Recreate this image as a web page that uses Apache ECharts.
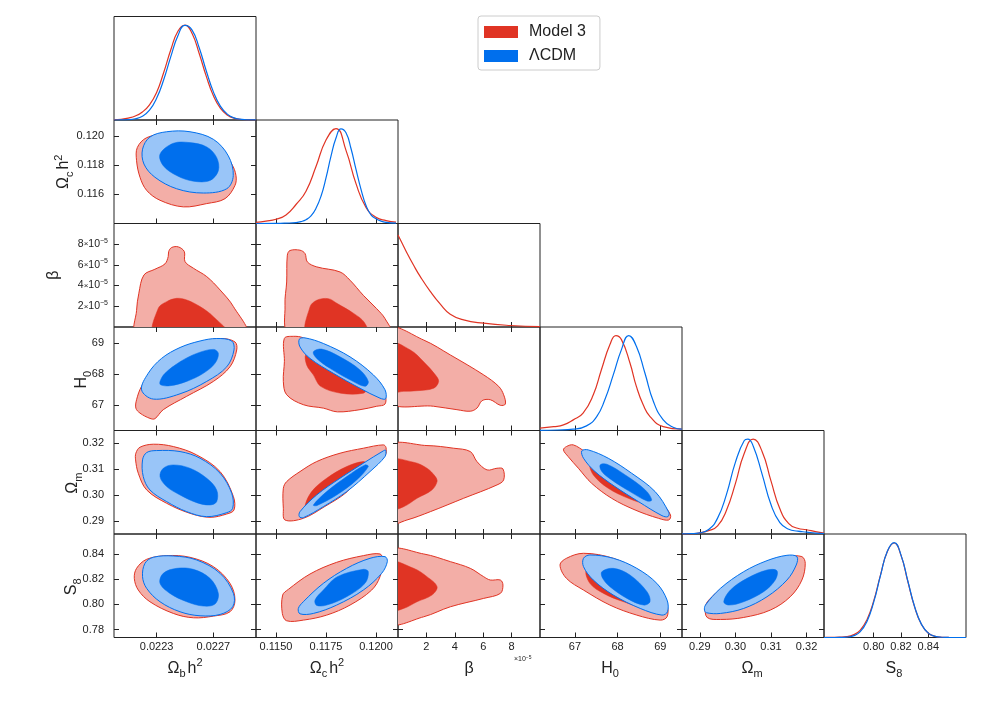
<!DOCTYPE html>
<html><head><meta charset="utf-8">
<script src="https://cdn.jsdelivr.net/npm/echarts@6/dist/echarts.min.js"></script>
<style>html,body{margin:0;padding:0;background:#fff}#c{width:984px;height:703px}</style>
</head><body><div id="c"></div><script>
// ---------------- axis data ----------------
const PARAM_X_RANGE = [[0.0220,0.0230],[0.1140,0.1211],[0,10],[66.18,69.51],[0.2850,0.3249],[0.7636,0.8676]];
const PARAM_Y_RANGE = [null,[0.1140,0.1211],[0,10],[66.18,69.51],[0.2850,0.3249],[0.7736,0.8562]];
const X_TICKS = [[0.0223,0.0227],[0.1150,0.1175,0.1200],[2,4,6,8],[67,68,69],[0.29,0.30,0.31,0.32],[0.80,0.82,0.84]];
const Y_TICKS = [null,[0.116,0.118,0.120],[2,4,6,8],[67,68,69],[0.29,0.30,0.31,0.32],[0.78,0.80,0.82,0.84]];
const AXIS_NAMES = ['{m|Ω}{sub|b}{m|h}{sup|2}','{m|Ω}{sub|c}{m|h}{sup|2}','{m|β}','{m|H}{sub|0}','{m|Ω}{sub|m}','{m|S}{sub|8}'];
const LEGEND_NAMES = ['Model 3','ΛCDM'];
// beta values are in units of 1e-5

// ---------------- 1D marginals ----------------
const D0_X = [0.0220,0.02205,0.0221,0.02215,0.0222,0.02225,0.0223,0.02235,0.0224,0.02245,0.0225,0.02255,0.0226,0.02265,0.0227,0.02275,0.0228,0.02285,0.0229,0.02295,0.0230];
const D0_RED = [0.003,0.008,0.02,0.042,0.085,0.16,0.29,0.50,0.74,0.935,1.0,0.91,0.70,0.46,0.256,0.122,0.05,0.017,0.005,0.0013,0.0003];
const D0_BLUE = [0.0002,0.0008,0.0035,0.013,0.04,0.103,0.228,0.424,0.667,0.887,0.997,0.947,0.761,0.516,0.296,0.144,0.059,0.02,0.006,0.0015,0.0003];

const D1_RED_X = [0.1140,0.1145,0.1150,0.1155,0.1160,0.1165,0.1170,0.1175,0.1180,0.1185,0.1190,0.1195,0.1200,0.1205,0.1210];
const D1_RED = [0.012,0.025,0.045,0.09,0.20,0.34,0.60,0.88,1.0,0.77,0.42,0.17,0.065,0.03,0.015];
const D1_BLUE_X = [0.1140,0.1150,0.1155,0.1160,0.11625,0.1165,0.11675,0.1170,0.11725,0.1175,0.11775,0.1180,0.11825,0.1185,0.11875,0.1190,0.11925,0.1195,0.11975,0.1200,0.12025,0.1205,0.1210];
const D1_BLUE = [0,0.001,0.004,0.01,0.02,0.04,0.08,0.16,0.287,0.48,0.71,0.90,0.997,0.955,0.79,0.57,0.36,0.19,0.091,0.05,0.025,0.012,0.003];

const D2_RED_X = [0,0.3,0.63,1.1,1.57,2.27,2.98,3.68,4.62,6.03,7.91,10];
const D2_RED = [0.97,0.88,0.78,0.65,0.53,0.375,0.24,0.135,0.075,0.04,0.016,0.005];

const D3_RED_X = [66.18,66.5,66.73,66.96,67.19,67.43,67.62,67.82,67.96,68.09,68.29,68.44,68.60,68.76,69.07,69.51];
const D3_RED = [0.024,0.04,0.059,0.112,0.183,0.376,0.64,0.905,1.0,0.957,0.711,0.464,0.27,0.147,0.041,0.014];
const D3_BLUE_X = [66.18,66.6,66.96,67.27,67.51,67.70,67.90,68.09,68.26,68.44,68.64,68.84,69.07,69.30,69.51];
const D3_BLUE = [0.002,0.005,0.014,0.049,0.147,0.323,0.588,0.852,1.0,0.887,0.606,0.305,0.112,0.035,0.014];

const D4_RED_X = [0.285,0.2875,0.29,0.2925,0.295,0.2975,0.30,0.3025,0.305,0.3075,0.31,0.3125,0.315,0.3175,0.32,0.3225,0.3249];
const D4_RED = [0.001,0.002,0.012,0.035,0.085,0.25,0.53,0.85,1.0,0.87,0.56,0.265,0.11,0.06,0.045,0.025,0.01];
const D4_BLUE_X = [0.285,0.2875,0.29,0.2925,0.295,0.2975,0.30,0.3025,0.3035,0.305,0.3075,0.31,0.3125,0.315,0.3175,0.32,0.3225,0.3249];
const D4_BLUE = [0.002,0.004,0.012,0.047,0.167,0.418,0.754,0.984,1.0,0.927,0.631,0.31,0.12,0.05,0.03,0.02,0.01,0.004];

const D5_X = [0.7636,0.765,0.770,0.775,0.780,0.785,0.790,0.795,0.800,0.805,0.810,0.815,0.820,0.825,0.830,0.835,0.840,0.845,0.850,0.855,0.860,0.865,0.8676];
const D5_RED = [0,0.0005,0.001,0.003,0.009,0.028,0.075,0.185,0.385,0.66,0.905,0.995,0.865,0.59,0.32,0.136,0.045,0.012,0.0025,0.0004,0.0001,0,0];
const D5_BLUE = [0,0,0.0001,0.0006,0.0037,0.0167,0.059,0.167,0.372,0.654,0.908,0.999,0.868,0.595,0.324,0.138,0.046,0.0125,0.0026,0.0004,0.0001,0,0];

// ---------------- 2D contours (x,y data pairs) ----------------
// (Ωb h², Ωc h²)
const A_red_out = [[0.022164,0.119209],[0.022159,0.118305],[0.022183,0.117175],[0.02223,0.116271],[0.022324,0.115593],[0.022488,0.115141],[0.022653,0.115367],[0.022782,0.115706],[0.022852,0.11661],[0.022859,0.117288],[0.022829,0.118079],[0.022723,0.119435],[0.022559,0.120113],[0.022371,0.120158],[0.02223,0.119887]];
const A_blue_out = [[0.022201,0.119096],[0.022253,0.119932],[0.022371,0.120294],[0.022535,0.120294],[0.0227,0.119774],[0.022805,0.118644],[0.02284,0.117288],[0.022794,0.116384],[0.022629,0.11609],[0.022441,0.116384],[0.022288,0.117175],[0.022211,0.118079]];
const A_blue_in = [[0.022324,0.118757],[0.022418,0.119503],[0.022535,0.119548],[0.022653,0.119254],[0.022723,0.118531],[0.022735,0.117627],[0.022676,0.116949],[0.022559,0.116904],[0.022441,0.117288],[0.022347,0.117966]];
// (Ωb h², β)
const B_red_out = [[0.02216,-0.6],[0.022159,1.6],[0.022175,3.26],[0.022211,5.03],[0.022288,5.58],[0.022359,6.10],[0.022382,6.81],[0.022385,7.29],[0.022406,7.68],[0.022453,7.74],[0.022495,7.29],[0.0225,6.32],[0.022559,5.68],[0.022653,4.87],[0.022747,3.58],[0.022841,1.97],[0.022925,-0.6]];
const B_red_in = [[0.022285,-0.6],[0.022312,1.81],[0.022371,2.45],[0.022441,2.77],[0.022512,2.61],[0.022606,1.97],[0.0227,1.0],[0.022795,-0.6]];
// (Ωb h², H0)
const C_red_out = [[0.022154,66.90],[0.022159,67.17],[0.022194,67.60],[0.022277,68.13],[0.022418,68.66],[0.022582,68.98],[0.022747,69.14],[0.022852,69.03],[0.022864,68.77],[0.022817,68.23],[0.0227,67.76],[0.022512,67.28],[0.022347,66.85],[0.022288,66.56],[0.022253,66.57],[0.022183,66.74]];
const C_blue_out = [[0.022194,67.49],[0.022241,68.02],[0.022335,68.50],[0.022465,68.85],[0.022606,69.06],[0.022723,69.14],[0.022829,69.06],[0.022845,68.77],[0.022794,68.23],[0.022653,67.76],[0.022465,67.36],[0.022277,67.19]];
const C_blue_in = [[0.022324,67.76],[0.022359,68.02],[0.022465,68.39],[0.022582,68.66],[0.0227,68.79],[0.022735,68.66],[0.022711,68.34],[0.022629,68.02],[0.022512,67.76],[0.022394,67.62],[0.022328,67.65]];
// (Ωb h², Ωm)
const D_red_out = [[0.022154,0.316139],[0.022183,0.318456],[0.022277,0.319614],[0.022418,0.318713],[0.022582,0.315496],[0.022747,0.309061],[0.022841,0.299408],[0.022845,0.29426],[0.022794,0.292716],[0.022676,0.291429],[0.022535,0.292973],[0.022371,0.296834],[0.02223,0.301982],[0.022171,0.308417],[0.022152,0.313565]];
const D_blue_out = [[0.022201,0.313565],[0.02223,0.316396],[0.0223,0.317169],[0.022465,0.316783],[0.022606,0.314209],[0.022747,0.308417],[0.022829,0.300695],[0.022836,0.294904],[0.022794,0.29323],[0.022653,0.291686],[0.022512,0.293616],[0.022371,0.297478],[0.022253,0.301982],[0.022206,0.30713]];
const D_blue_in = [[0.022324,0.30713],[0.022347,0.310348],[0.022418,0.311635],[0.022535,0.310348],[0.022653,0.306487],[0.022723,0.301982],[0.022723,0.297478],[0.022676,0.296191],[0.022582,0.297092],[0.022465,0.300052],[0.022371,0.303269]];
// (Ωb h², S8)
const E_red_out = [[0.022143,0.8208],[0.022159,0.8288],[0.02223,0.836],[0.022371,0.838933],[0.022535,0.8376],[0.0227,0.830133],[0.022817,0.8168],[0.022852,0.803467],[0.022817,0.794133],[0.0227,0.790667],[0.022559,0.789333],[0.022418,0.7928],[0.022253,0.802133],[0.022171,0.811467]];
const E_blue_out = [[0.022201,0.822133],[0.022218,0.8328],[0.022277,0.8376],[0.022418,0.838667],[0.022582,0.835467],[0.022747,0.8248],[0.022841,0.8088],[0.022836,0.798133],[0.022747,0.792],[0.022606,0.790933],[0.022465,0.794133],[0.022324,0.802133],[0.02223,0.8128]];
const E_blue_in = [[0.022324,0.8168],[0.022347,0.8248],[0.022441,0.8288],[0.022559,0.828],[0.022676,0.8208],[0.022735,0.8088],[0.022711,0.800267],[0.022629,0.798667],[0.022512,0.802133],[0.022394,0.8088]];
// (Ωc h², β)
const F_red_out = [[0.11568,-0.6],[0.11545,2.10],[0.115533,4.35],[0.115567,6.94],[0.1157,7.39],[0.1162,7.42],[0.11645,7.10],[0.116567,6.29],[0.117033,5.81],[0.1182,5.32],[0.1187,4.52],[0.119367,3.06],[0.120033,1.77],[0.12045,0.81],[0.12072,-0.6]];
const F_red_in = [[0.11656,-0.6],[0.1167,1.94],[0.117033,2.58],[0.117617,2.74],[0.118067,2.26],[0.1189,1.29],[0.1194,0.48],[0.11956,-0.6]];
// (Ωc h², H0)
const G_red_out = [[0.115417,69.14],[0.115867,69.21],[0.116367,69.16],[0.1177,68.71],[0.119033,68.18],[0.120033,67.70],[0.12045,67.33],[0.12045,67.03],[0.120033,66.96],[0.1192,66.85],[0.118067,66.78],[0.117367,66.90],[0.116367,67.01],[0.115533,67.33],[0.115367,67.76],[0.11542,68.4]];
const G_red_in = [[0.1165,68.63],[0.117033,68.66],[0.118033,68.39],[0.119033,67.97],[0.119533,67.54],[0.119367,67.38],[0.118233,67.38],[0.117233,67.60],[0.116867,67.97],[0.116533,68.29]];
const G_blue_out = [[0.116167,69.12],[0.11645,69.16],[0.117367,68.98],[0.1187,68.55],[0.119867,67.97],[0.12045,67.49],[0.120483,67.20],[0.1202,67.22],[0.1192,67.54],[0.117867,68.02],[0.1167,68.50],[0.1162,68.87]];
const G_blue_in = [[0.116867,68.71],[0.117283,68.80],[0.1182,68.55],[0.1192,68.13],[0.119617,67.76],[0.11945,67.60],[0.1187,67.81],[0.1177,68.18],[0.117033,68.50]];
// (Ωc h², Ωm)
const H_red_out = [[0.115367,0.302626],[0.115533,0.305199],[0.1162,0.309061],[0.117033,0.312922],[0.1182,0.316139],[0.119367,0.318069],[0.120367,0.319356],[0.1205,0.318327],[0.12045,0.315238],[0.119433,0.309061],[0.118567,0.301339],[0.1174,0.295419],[0.116367,0.291042],[0.11545,0.290399],[0.115367,0.294904]];
const H_red_in = [[0.11645,0.295547],[0.116783,0.301339],[0.117533,0.306487],[0.118533,0.310991],[0.119367,0.312922],[0.119533,0.311635],[0.1187,0.305199],[0.117533,0.298764],[0.1167,0.295161]];
const H_blue_out = [[0.116167,0.291686],[0.1162,0.293616],[0.117033,0.300052],[0.1182,0.306487],[0.119367,0.312278],[0.120367,0.31704],[0.120483,0.317297],[0.12045,0.314852],[0.1197,0.309061],[0.118533,0.301339],[0.117367,0.295547],[0.116367,0.2913]];
const H_blue_in = [[0.116867,0.296191],[0.117533,0.301339],[0.118533,0.30713],[0.11945,0.311635],[0.119617,0.310991],[0.119033,0.305843],[0.118033,0.300052],[0.117033,0.295933]];
// (β, H0)
const I_red_out = [[-0.6,69.45],[1.81,69.09],[3.69,68.61],[6.03,67.97],[7.09,67.60],[7.44,67.33],[7.56,67.03],[7.21,66.99],[6.50,67.17],[5.92,67.14],[5.56,66.90],[5.09,66.80],[4.15,66.85],[2.51,66.96],[-0.6,67.12]];
const I_red_in = [[-0.6,69.0],[0.87,68.77],[1.81,68.39],[2.63,67.97],[2.86,67.76],[2.51,67.54],[1.34,67.46],[0.40,67.44],[-0.6,67.44]];
// (β, Ωm)
const J_red_out = [[-0.6,0.31871],[2.04,0.319099],[3.92,0.318069],[5.09,0.316783],[5.56,0.312922],[6.27,0.309704],[6.97,0.310348],[7.39,0.310091],[7.44,0.305843],[6.97,0.303913],[4.62,0.298764],[2.28,0.293616],[0.63,0.290399],[-0.6,0.2892]];
const J_red_in = [[-0.6,0.31318],[1.10,0.312664],[2.04,0.310348],[2.63,0.30713],[2.75,0.305199],[2.39,0.301982],[1.34,0.298764],[0.40,0.295547],[-0.6,0.2945]];
// (H0, Ωm)
const K_red_out = [[66.73,0.317426],[66.80,0.318713],[66.96,0.319356],[67.24,0.316783],[67.63,0.313565],[68.10,0.309061],[68.65,0.302626],[69.04,0.296834],[69.24,0.292329],[69.20,0.290399],[68.96,0.291042],[68.41,0.29426],[67.86,0.298764],[67.39,0.304556],[67.08,0.310348],[66.84,0.314852]];
const K_red_in = [[67.35,0.312278],[67.55,0.312278],[68.02,0.308417],[68.49,0.303269],[68.76,0.298121],[68.65,0.296834],[68.25,0.298764],[67.78,0.302626],[67.43,0.307774]];
const K_blue_out = [[67.16,0.31704],[67.31,0.317426],[67.78,0.314209],[68.33,0.308417],[68.88,0.301339],[69.20,0.293359],[69.18,0.291686],[69.04,0.292072],[68.49,0.297478],[67.94,0.303269],[67.47,0.309061],[67.20,0.314209]];
const K_blue_in = [[67.59,0.311635],[67.75,0.311892],[68.18,0.307774],[68.65,0.301982],[68.80,0.298121],[68.69,0.297735],[68.29,0.301339],[67.86,0.305843],[67.63,0.309061]];
// (Ωc h², S8)
const L_red_out = [[0.115333,0.807467],[0.115617,0.812],[0.1167,0.824267],[0.118033,0.8336],[0.119367,0.838933],[0.1202,0.840267],[0.120333,0.835467],[0.1202,0.822133],[0.119783,0.811467],[0.1187,0.799467],[0.117533,0.791467],[0.116367,0.787467],[0.115533,0.786933],[0.115317,0.7928]];
const L_blue_out = [[0.116117,0.7968],[0.116367,0.802133],[0.117367,0.8168],[0.118533,0.8288],[0.1197,0.8368],[0.12045,0.838133],[0.120567,0.834133],[0.120283,0.8248],[0.119367,0.811467],[0.118033,0.799467],[0.116867,0.7928],[0.1162,0.7925]];
const L_blue_in = [[0.11695,0.803467],[0.117367,0.811467],[0.118067,0.822133],[0.119367,0.828],[0.119617,0.826133],[0.11945,0.8168],[0.118533,0.806133],[0.117533,0.799467],[0.117033,0.7992]];
// (β, S8)
const M_red_out = [[-0.6,0.8425],[1.81,0.840267],[3.69,0.834133],[5.09,0.8288],[6.03,0.822133],[6.50,0.819467],[7.21,0.819467],[7.39,0.815467],[7.21,0.8088],[6.03,0.8048],[3.69,0.798133],[1.81,0.790133],[-0.6,0.7855]];
const M_red_in = [[-0.6,0.8335],[1.10,0.8288],[2.04,0.822133],[2.75,0.814133],[2.39,0.807467],[1.34,0.802133],[0.40,0.7968],[-0.6,0.7952]];
// (H0, S8)
const N_red_out = [[66.65,0.831467],[66.80,0.8368],[67.20,0.8408],[67.90,0.8368],[68.45,0.827467],[68.92,0.814133],[69.16,0.799467],[69.16,0.790133],[69.00,0.787467],[68.45,0.791467],[67.82,0.799467],[67.20,0.811467],[66.80,0.8208]];
const N_red_in = [[67.27,0.827467],[67.67,0.828],[68.29,0.819467],[68.69,0.806133],[68.61,0.798133],[68.14,0.802133],[67.67,0.8088],[67.35,0.8168]];
const N_blue_out = [[67.20,0.8368],[67.35,0.839467],[67.90,0.8368],[68.45,0.8288],[68.92,0.8168],[69.16,0.803467],[69.17,0.794133],[69.04,0.791467],[68.53,0.7968],[67.90,0.807467],[67.43,0.819467],[67.20,0.830133]];
const N_blue_in = [[67.63,0.826133],[67.90,0.8288],[68.29,0.823467],[68.69,0.810133],[68.76,0.802133],[68.61,0.799467],[68.22,0.8048],[67.82,0.814133],[67.65,0.8208]];
// (Ωm, S8)
const O_red_out = [[0.29159,0.798133],[0.29252,0.803467],[0.29673,0.814133],[0.30234,0.8248],[0.30794,0.8328],[0.31449,0.838133],[0.31869,0.838133],[0.31963,0.8328],[0.31869,0.819467],[0.31542,0.806133],[0.30981,0.795467],[0.30234,0.7896],[0.29579,0.788],[0.29206,0.7896]];
const O_blue_out = [[0.29131,0.795467],[0.29159,0.799467],[0.29579,0.8128],[0.30234,0.826133],[0.30888,0.834933],[0.31449,0.8392],[0.31729,0.838133],[0.3171,0.831467],[0.31449,0.819467],[0.30888,0.806133],[0.30234,0.7968],[0.29579,0.7928],[0.29187,0.793333]];
const O_blue_in = [[0.29673,0.802133],[0.2986,0.811467],[0.30327,0.8208],[0.30888,0.827467],[0.31168,0.826933],[0.31121,0.819467],[0.30794,0.810133],[0.30234,0.802133],[0.29813,0.799467]];

// ---------------- build ----------------
const RED = '#E03424', RED_LIGHT = '#F3AEA7', BLUE = '#006FED', BLUE_LIGHT = '#99C5F8';
const FONT = 'Liberation Sans, Arial, sans-serif';
const TXT = '#222';
const STYLE = {
  ro: {fill: RED_LIGHT, stroke: RED, name: LEGEND_NAMES[0]},
  ri: {fill: RED, stroke: RED, name: LEGEND_NAMES[0]},
  bo: {fill: BLUE_LIGHT, stroke: BLUE, name: LEGEND_NAMES[1]},
  bi: {fill: BLUE, stroke: BLUE, name: LEGEND_NAMES[1]}
};
const PANELS_2D = [
  [0,1,[[A_red_out,'ro'],[A_blue_out,'bo'],[A_blue_in,'bi']]],
  [0,2,[[B_red_out,'ro'],[B_red_in,'ri']]],
  [0,3,[[C_red_out,'ro'],[C_blue_out,'bo'],[C_blue_in,'bi']]],
  [0,4,[[D_red_out,'ro'],[D_blue_out,'bo'],[D_blue_in,'bi']]],
  [0,5,[[E_red_out,'ro'],[E_blue_out,'bo'],[E_blue_in,'bi']]],
  [1,2,[[F_red_out,'ro'],[F_red_in,'ri']]],
  [1,3,[[G_red_out,'ro'],[G_red_in,'ri'],[G_blue_out,'bo'],[G_blue_in,'bi']]],
  [1,4,[[H_red_out,'ro'],[H_red_in,'ri'],[H_blue_out,'bo'],[H_blue_in,'bi']]],
  [1,5,[[L_red_out,'ro'],[L_blue_out,'bo'],[L_blue_in,'bi']]],
  [2,3,[[I_red_out,'ro'],[I_red_in,'ri']]],
  [2,4,[[J_red_out,'ro'],[J_red_in,'ri']]],
  [2,5,[[M_red_out,'ro'],[M_red_in,'ri']]],
  [3,4,[[K_red_out,'ro'],[K_red_in,'ri'],[K_blue_out,'bo'],[K_blue_in,'bi']]],
  [3,5,[[N_red_out,'ro'],[N_red_in,'ri'],[N_blue_out,'bo'],[N_blue_in,'bi']]],
  [4,5,[[O_red_out,'ro'],[O_blue_out,'bo'],[O_blue_in,'bi']]]
];
const zip = (xs, ys) => xs.map((x, k) => [x, ys[k]]);
const DIAG = [
  [zip(D0_X, D0_RED), zip(D0_X, D0_BLUE)],
  [zip(D1_RED_X, D1_RED), zip(D1_BLUE_X, D1_BLUE)],
  [zip(D2_RED_X, D2_RED), null],
  [zip(D3_RED_X, D3_RED), zip(D3_BLUE_X, D3_BLUE)],
  [zip(D4_RED_X, D4_RED), zip(D4_BLUE_X, D4_BLUE)],
  [zip(D5_X, D5_RED), zip(D5_X, D5_BLUE)]
];

const X_FMT = [v => v.toFixed(4), v => v.toFixed(4), v => String(v), v => String(v), v => v.toFixed(2), v => v.toFixed(2)];
const Y_FMT = [null, v => v.toFixed(3), v => '{n|' + v + '}{t|×}{n|10}{s|−5}', v => String(v), v => v.toFixed(2), v => v.toFixed(2)];
const Y_NAME_GAP = [0, 39, 49, 21, 30, 31];
const Y_LABEL_MARGIN = [0, 10, 6, 10, 10, 10];

const COL_LEFT = 114, CELL_W = 142, ROW_TOP = 16.5, CELL_H = 103.5;
const NAME_RICH = {
  m: {fontSize: 16, lineHeight: 22, color: TXT, fontFamily: FONT},
  sub: {fontSize: 11, lineHeight: 11, verticalAlign: 'bottom', color: TXT, fontFamily: FONT, padding: [0, 2, 0, 0]},
  sup: {fontSize: 11, lineHeight: 11, verticalAlign: 'top', color: TXT, fontFamily: FONT}
};
const TICK = (vals) => ({show: true, inside: true, length: 5, customValues: vals, lineStyle: {color: TXT, width: 1}});

const grids = [], xAxes = [], yAxes = [], series = [];
const idx = {};
for (let j = 0; j < 6; j++) {
  for (let i = 0; i <= j; i++) {
    const g = grids.length;
    grids.push({left: COL_LEFT + i * CELL_W, top: ROW_TOP + j * CELL_H, width: CELL_W, height: CELL_H,
      show: true, borderColor: TXT, borderWidth: 1, backgroundColor: 'rgba(0,0,0,0)'});
    const xr = PARAM_X_RANGE[i];
    const xb = {gridIndex: g, type: 'value', position: 'bottom', min: xr[0], max: xr[1],
      axisLine: {show: false}, splitLine: {show: false}, axisTick: TICK(X_TICKS[i]),
      axisLabel: {show: j === 5, customValues: X_TICKS[i], formatter: X_FMT[i], fontSize: 11, color: TXT, fontFamily: FONT, margin: 4}};
    if (j === 5) {
      xb.name = AXIS_NAMES[i]; xb.nameLocation = 'middle'; xb.nameGap = 20; xb.nameMoveOverlap = false;
      xb.nameTextStyle = {rich: NAME_RICH};
    }
    const xi = xAxes.length; xAxes.push(xb);
    let yi;
    if (i === j) {
      yi = yAxes.length;
      yAxes.push({gridIndex: g, type: 'value', min: 0, max: 1.09, show: false});
    } else {
      xAxes.push({gridIndex: g, type: 'value', position: 'top', min: xr[0], max: xr[1],
        axisLine: {show: false}, splitLine: {show: false}, axisTick: TICK(X_TICKS[i]), axisLabel: {show: false}});
      const yr = PARAM_Y_RANGE[j];
      const yl = {gridIndex: g, type: 'value', position: 'left', min: yr[0], max: yr[1],
        axisLine: {show: false}, splitLine: {show: false}, axisTick: TICK(Y_TICKS[j]),
        axisLabel: {show: i === 0, customValues: Y_TICKS[j], formatter: Y_FMT[j], fontSize: 11, color: TXT, fontFamily: FONT,
          margin: Y_LABEL_MARGIN[j],
          rich: {n: {fontSize: 10.5, lineHeight: 14, color: TXT, fontFamily: FONT},
                 t: {fontSize: 8, lineHeight: 14, color: TXT, fontFamily: FONT},
                 s: {fontSize: 7, lineHeight: 8, verticalAlign: 'top', color: TXT, fontFamily: FONT}}}};
      if (i === 0) {
        yl.name = AXIS_NAMES[j]; yl.nameLocation = 'middle'; yl.nameGap = Y_NAME_GAP[j]; yl.nameMoveOverlap = false;
        yl.nameTextStyle = {rich: NAME_RICH};
      }
      yi = yAxes.length; yAxes.push(yl);
      yAxes.push({gridIndex: g, type: 'value', position: 'right', min: yr[0], max: yr[1],
        axisLine: {show: false}, splitLine: {show: false}, axisTick: TICK(Y_TICKS[j]), axisLabel: {show: false}});
    }
    idx[i + '_' + j] = {xi, yi};
  }
}

function polySeries(points, xi, yi, st) {
  return {
    type: 'custom', name: st.name, xAxisIndex: xi, yAxisIndex: yi, data: points,
    encode: {x: 0, y: 1}, silent: true, animation: false, itemStyle: {color: st.stroke},
    renderItem: function (params, api) {
      if (params.dataIndex !== 0) return null;
      const pts = points.map(p => api.coord(p));
      const cs = params.coordSys;
      return {
        type: 'polygon',
        shape: {points: pts, smooth: 0.35},
        style: {fill: st.fill, stroke: st.stroke, lineWidth: st.fill === st.stroke ? 0.5 : 1},
        clipPath: {type: 'rect', shape: {x: cs.x, y: cs.y, width: cs.width, height: cs.height}}
      };
    }
  };
}

PANELS_2D.forEach(([i, j, layers]) => {
  const a = idx[i + '_' + j];
  layers.forEach(([pts, key]) => series.push(polySeries(pts, a.xi, a.yi, STYLE[key])));
});
DIAG.forEach(([red, blue], i) => {
  const a = idx[i + '_' + i];
  [[red, RED, LEGEND_NAMES[0]], [blue, BLUE, LEGEND_NAMES[1]]].forEach(([d, c, n]) => {
    if (!d) return;
    series.push({type: 'line', name: n, xAxisIndex: a.xi, yAxisIndex: a.yi, data: d, showSymbol: false,
      smooth: 0.5, silent: true, animation: false,
      lineStyle: {color: c, width: 1.2}, itemStyle: {color: c}});
  });
});

const option = {
  animation: false,
  backgroundColor: '#fff',
  grid: grids, xAxis: xAxes, yAxis: yAxes, series: series,
  legend: {
    data: [{name: LEGEND_NAMES[0], icon: 'rect', itemStyle: {color: RED}},
           {name: LEGEND_NAMES[1], icon: 'rect', itemStyle: {color: BLUE}}],
    orient: 'vertical', left: 478, top: 16, itemWidth: 34, itemHeight: 12, itemGap: 8,
    padding: [8, 14, 6, 6], borderColor: '#cccccc', borderWidth: 1, borderRadius: 3,
    selectedMode: false,
    textStyle: {fontSize: 16, color: TXT, fontFamily: FONT, lineHeight: 12, padding: [0, 0, 0, 6]}
  },
  graphic: [{type: 'text', left: 514, top: 655,
    style: {text: '{a|×10}{b|−5}', rich: {a: {fontSize: 7, lineHeight: 9, fill: TXT, fontFamily: FONT},
      b: {fontSize: 5, lineHeight: 5, verticalAlign: 'top', fill: TXT, fontFamily: FONT}}}}]
};
const chart = echarts.init(document.getElementById('c'), null, {renderer: 'canvas'});
chart.setOption(option);
</script></body></html>
